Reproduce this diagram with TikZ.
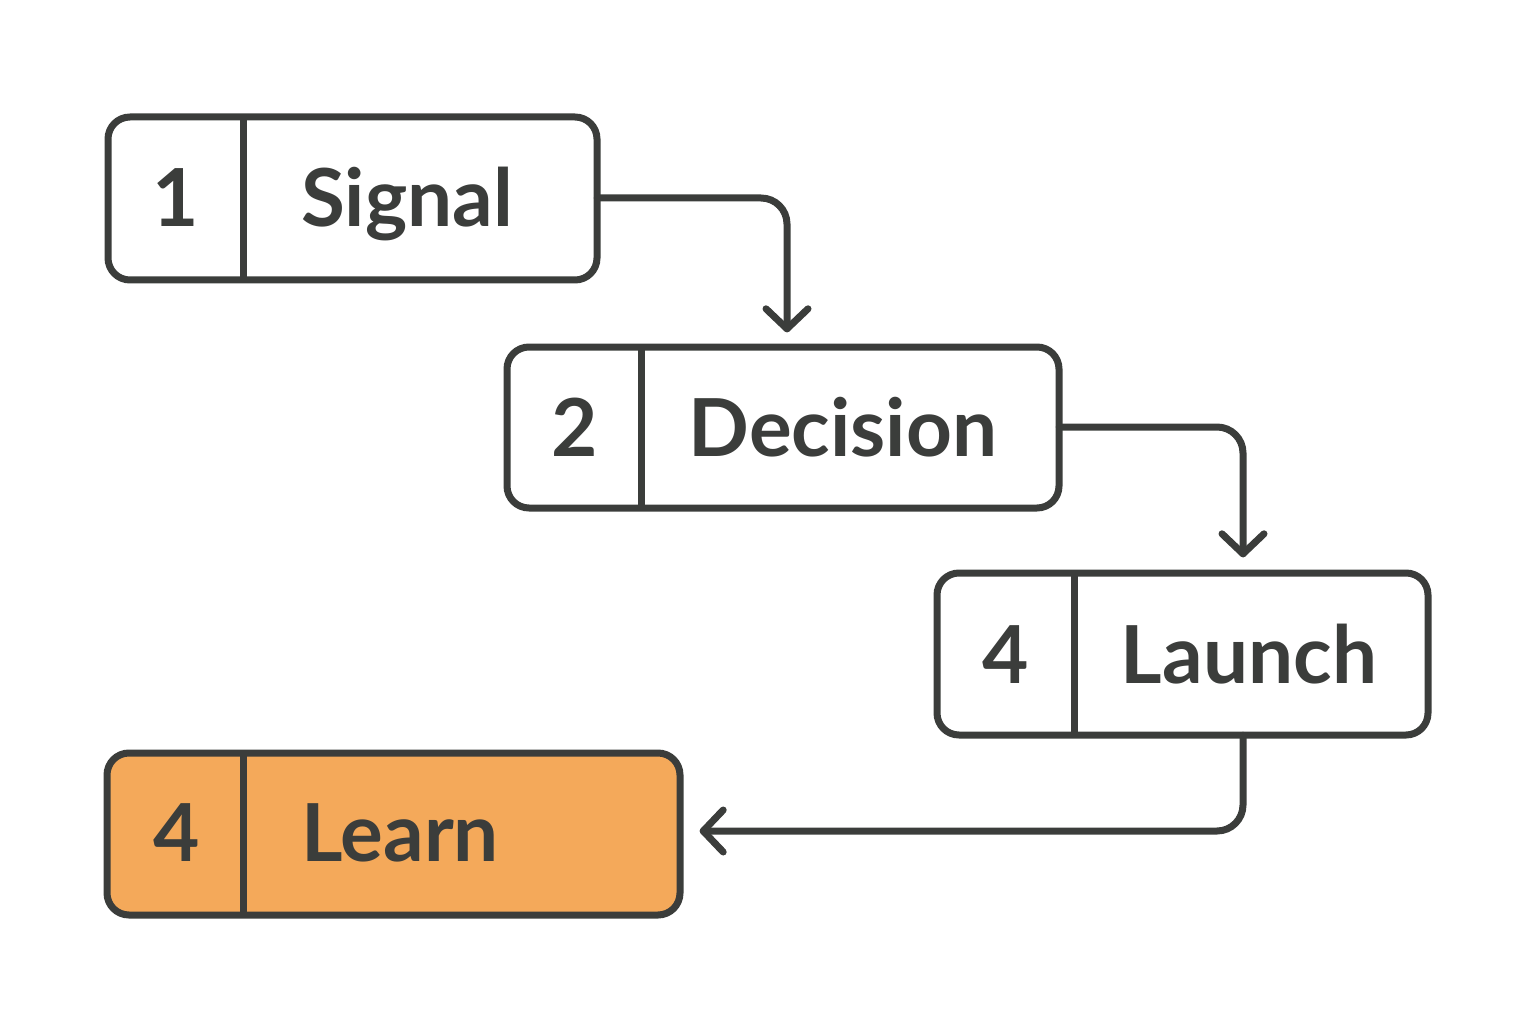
\documentclass[tikz,border=0pt]{standalone}
\usepackage{fontspec}
\setmainfont{Lato}
\usetikzlibrary{calc}
\definecolor{ink}{HTML}{3B3D3B}
\definecolor{learnfill}{HTML}{F4A95A}
\tikzset{
  box/.style={draw=ink, line width=7pt, rounded corners=22pt, inner sep=0pt},
  divider/.style={draw=ink, line width=7pt},
  numtxt/.style={text=ink, font=\bfseries\fontsize{80}{84}\selectfont, inner sep=0pt, anchor=base},
  labtxt/.style={text=ink, font=\bfseries\fontsize{80}{84}\selectfont, inner sep=0pt, anchor=base},
  conn/.style={draw=ink, line width=7pt, rounded corners=26pt, line cap=round},
  chev/.style={draw=ink, line width=7pt, line cap=round, line join=round},
}
\begin{document}
\begin{tikzpicture}[x=1pt,y=-1pt]
\useasboundingbox (0,0) rectangle (1536,1024);
% boxes
\path[box] (108,117) rectangle (597,280);
\node[inner sep=0pt, minimum width=489pt, minimum height=163pt] (sig) at (352.5,198.5) {};
\draw[divider] (243,117) -- (243,280);
\node[numtxt] (n1) at (176,227) {1};
\node[labtxt] (l1) at (407,227) {Signal};

\path[box] (507,347) rectangle (1059,508);
\node[inner sep=0pt, minimum width=552pt, minimum height=161pt] (dec) at (783,427.5) {};
\draw[divider] (641,347) -- (641,508);
\node[numtxt] (n2) at (575,456) {2};
\node[labtxt] (l2) at (843,456) {Decision};

\path[box] (937,573) rectangle (1428,735);
\node[inner sep=0pt, minimum width=491pt, minimum height=162pt] (lau) at (1182.5,654) {};
\draw[divider] (1074,573) -- (1074,735);
\node[numtxt] (n3) at (1006,683) {4};
\node[labtxt] (l3) at (1249,683) {Launch};

\path[box, fill=learnfill] (107,753) rectangle (680,915);
\node[inner sep=0pt, minimum width=573pt, minimum height=162pt] (lea) at (393.5,834) {};
\draw[divider] (243,753) -- (243,915);
\node[numtxt] (n4) at (177,861) {4};
\node[labtxt] (l4) at (400,861) {Learn};

% arrow tips
\coordinate (t1) at ([yshift=18pt]dec.north -| 787,0);
\coordinate (t2) at ([yshift=19pt]lau.north -| 1243,0);
\coordinate (t3) at ([xshift=23pt]lea.east |- 0,831);

% connectors
\draw[conn] (sig.east |- 0,198) -- (787,198) -- (t1);
\draw[chev] ($(t1)+(-21,-20)$) -- (t1) -- ($(t1)+(21,-20)$);
\draw[conn] (dec.east |- 0,427) -- (1243,427) -- (t2);
\draw[chev] ($(t2)+(-21,-20)$) -- (t2) -- ($(t2)+(21,-20)$);
\draw[conn] (lau.south -| 1243,0) -- (1243,831) -- (t3);
\draw[chev] ($(t3)+(20,-21)$) -- (t3) -- ($(t3)+(20,21)$);
\end{tikzpicture}
\end{document}
